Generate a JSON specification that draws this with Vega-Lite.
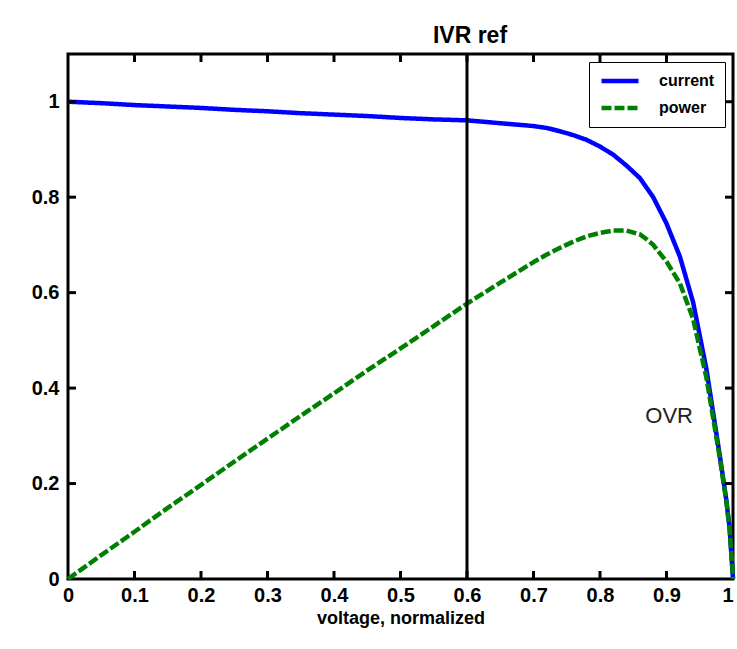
{
  "$schema": "https://vega.github.io/schema/vega-lite/v6.json",
  "width": 665,
  "height": 525,
  "autosize": {"type": "none"},
  "padding": {"left": 68, "top": 54, "right": 4, "bottom": 70},
  "background": "white",
  "config": {
    "view": {"stroke": "black", "strokeWidth": 3},
    "font": "Liberation Sans",
    "legend": {
      "orient": "top-right", "offset": 8,
      "strokeColor": "black", "fillColor": "white", "padding": 10,
      "symbolType": "stroke", "symbolSize": 1369, "symbolStrokeWidth": 4.5,
      "labelFont": "Liberation Sans", "labelFontWeight": "bold", "labelFontSize": 16, "labelColor": "black",
      "labelOffset": 18, "rowPadding": 9, "clipHeight": 18
    }
  },
  "datasets": {
    "curves": [
      {"v": 0, "value": 1.0, "series": "current"},
      {"v": 0.05, "value": 0.997, "series": "current"},
      {"v": 0.1, "value": 0.993, "series": "current"},
      {"v": 0.15, "value": 0.99, "series": "current"},
      {"v": 0.2, "value": 0.987, "series": "current"},
      {"v": 0.25, "value": 0.983, "series": "current"},
      {"v": 0.3, "value": 0.98, "series": "current"},
      {"v": 0.35, "value": 0.976, "series": "current"},
      {"v": 0.4, "value": 0.973, "series": "current"},
      {"v": 0.45, "value": 0.97, "series": "current"},
      {"v": 0.5, "value": 0.966, "series": "current"},
      {"v": 0.55, "value": 0.963, "series": "current"},
      {"v": 0.6, "value": 0.961, "series": "current"},
      {"v": 0.65, "value": 0.955, "series": "current"},
      {"v": 0.7, "value": 0.949, "series": "current"},
      {"v": 0.72, "value": 0.945, "series": "current"},
      {"v": 0.74, "value": 0.938, "series": "current"},
      {"v": 0.76, "value": 0.93, "series": "current"},
      {"v": 0.78, "value": 0.92, "series": "current"},
      {"v": 0.8, "value": 0.906, "series": "current"},
      {"v": 0.82, "value": 0.889, "series": "current"},
      {"v": 0.84, "value": 0.866, "series": "current"},
      {"v": 0.86, "value": 0.84, "series": "current"},
      {"v": 0.88, "value": 0.8, "series": "current"},
      {"v": 0.9, "value": 0.745, "series": "current"},
      {"v": 0.92, "value": 0.676, "series": "current"},
      {"v": 0.94, "value": 0.58, "series": "current"},
      {"v": 0.96, "value": 0.44, "series": "current"},
      {"v": 0.98, "value": 0.26, "series": "current"},
      {"v": 0.99, "value": 0.165, "series": "current"},
      {"v": 0.995, "value": 0.105, "series": "current"},
      {"v": 1.0, "value": 0.0, "series": "current"},
      {"v": 0, "value": 0, "series": "power"},
      {"v": 0.05, "value": 0.05, "series": "power"},
      {"v": 0.1, "value": 0.099, "series": "power"},
      {"v": 0.15, "value": 0.149, "series": "power"},
      {"v": 0.2, "value": 0.197, "series": "power"},
      {"v": 0.25, "value": 0.246, "series": "power"},
      {"v": 0.3, "value": 0.294, "series": "power"},
      {"v": 0.35, "value": 0.342, "series": "power"},
      {"v": 0.4, "value": 0.389, "series": "power"},
      {"v": 0.45, "value": 0.437, "series": "power"},
      {"v": 0.5, "value": 0.483, "series": "power"},
      {"v": 0.55, "value": 0.53, "series": "power"},
      {"v": 0.6, "value": 0.577, "series": "power"},
      {"v": 0.65, "value": 0.621, "series": "power"},
      {"v": 0.7, "value": 0.664, "series": "power"},
      {"v": 0.72, "value": 0.68, "series": "power"},
      {"v": 0.74, "value": 0.694, "series": "power"},
      {"v": 0.76, "value": 0.707, "series": "power"},
      {"v": 0.78, "value": 0.718, "series": "power"},
      {"v": 0.8, "value": 0.725, "series": "power"},
      {"v": 0.82, "value": 0.73, "series": "power"},
      {"v": 0.84, "value": 0.73, "series": "power"},
      {"v": 0.86, "value": 0.722, "series": "power"},
      {"v": 0.87, "value": 0.712, "series": "power"},
      {"v": 0.88, "value": 0.7, "series": "power"},
      {"v": 0.9, "value": 0.665, "series": "power"},
      {"v": 0.92, "value": 0.62, "series": "power"},
      {"v": 0.94, "value": 0.545, "series": "power"},
      {"v": 0.96, "value": 0.422, "series": "power"},
      {"v": 0.98, "value": 0.255, "series": "power"},
      {"v": 0.99, "value": 0.163, "series": "power"},
      {"v": 0.995, "value": 0.104, "series": "power"},
      {"v": 1.0, "value": 0, "series": "power"}
    ],
    "xticks": [{"t": 0.1}, {"t": 0.2}, {"t": 0.3}, {"t": 0.4}, {"t": 0.5}, {"t": 0.6}, {"t": 0.7}, {"t": 0.8}, {"t": 0.9}],
    "yticks": [{"t": 0.2}, {"t": 0.4}, {"t": 0.6}, {"t": 0.8}, {"t": 1.0}],
    "refline": [{"v": 0.6}],
    "ivr": [{"v": 0.6, "y": 1.1, "label": "IVR ref"}],
    "ovr": [{"v": 0.904, "y": 0.342, "label": "OVR"}]
  },
  "layer": [
    {
      "data": {"name": "curves"},
      "mark": {"type": "line", "strokeWidth": 4.5},
      "encoding": {
        "x": {"field": "v", "type": "quantitative",
              "scale": {"domain": [0, 1], "nice": false, "zero": false},
              "axis": {"orient": "bottom", "values": [0, 0.1, 0.2, 0.3, 0.4, 0.5, 0.6, 0.7, 0.8, 0.9, 1], "format": "~g",
                       "domain": false, "grid": false, "ticks": false,
                       "labelFont": "Liberation Sans", "labelFontWeight": "bold", "labelFontSize": 20, "labelColor": "black",
                       "labelPadding": 6, "labelFlush": false,
                       "labelAlign": {"condition": {"test": "datum.value == 1", "value": "right"}, "value": "center"},
                       "title": "voltage, normalized", "titleFont": "Liberation Sans", "titleFontWeight": "bold", "titleFontSize": 18, "titleColor": "black", "titlePadding": 4}},
        "y": {"field": "value", "type": "quantitative",
              "scale": {"domain": [0, 1.1], "nice": false, "zero": false},
              "axis": {"orient": "left", "values": [0, 0.2, 0.4, 0.6, 0.8, 1], "format": "~g",
                       "domain": false, "grid": false, "ticks": false,
                       "labelFont": "Liberation Sans", "labelFontWeight": "bold", "labelFontSize": 20, "labelColor": "black",
                       "labelPadding": 9, "labelFlush": false, "title": null}},
        "color": {"field": "series", "type": "nominal",
                  "scale": {"domain": ["current", "power"], "range": ["#0000ff", "#008000"]},
                  "legend": {"title": null}},
        "strokeDash": {"field": "series", "type": "nominal",
                       "scale": {"domain": ["current", "power"], "range": [[1, 0], [10, 3]]},
                       "legend": {"title": null}}
      }
    },
    {
      "data": {"name": "xticks"},
      "mark": {"type": "point", "shape": "M0,0L0,-2", "size": 64, "filled": false, "stroke": "black", "strokeWidth": 3, "opacity": 1},
      "encoding": {
        "x": {"field": "t", "type": "quantitative", "axis": null},
        "y": {"value": "height"}
      }
    },
    {
      "data": {"name": "xticks"},
      "mark": {"type": "point", "shape": "M0,0L0,2", "size": 64, "filled": false, "stroke": "black", "strokeWidth": 3, "opacity": 1},
      "encoding": {
        "x": {"field": "t", "type": "quantitative", "axis": null},
        "y": {"value": 0}
      }
    },
    {
      "data": {"name": "yticks"},
      "mark": {"type": "point", "shape": "M0,0L2,0", "size": 64, "filled": false, "stroke": "black", "strokeWidth": 3, "opacity": 1},
      "encoding": {
        "y": {"field": "t", "type": "quantitative", "axis": null},
        "x": {"value": 0}
      }
    },
    {
      "data": {"name": "yticks"},
      "mark": {"type": "point", "shape": "M0,0L-2,0", "size": 64, "filled": false, "stroke": "black", "strokeWidth": 3, "opacity": 1},
      "encoding": {
        "y": {"field": "t", "type": "quantitative", "axis": null},
        "x": {"value": "width"}
      }
    },
    {
      "data": {"name": "refline"},
      "mark": {"type": "rule", "color": "black", "strokeWidth": 3},
      "encoding": {
        "x": {"field": "v", "type": "quantitative", "axis": null}
      }
    },
    {
      "data": {"name": "ivr"},
      "mark": {"type": "text", "font": "Liberation Sans", "fontWeight": "bold", "fontSize": 23, "baseline": "bottom", "align": "center", "dy": -6, "dx": 3, "color": "black"},
      "encoding": {
        "x": {"field": "v", "type": "quantitative", "axis": null},
        "y": {"field": "y", "type": "quantitative", "axis": null},
        "text": {"field": "label"}
      }
    },
    {
      "data": {"name": "ovr"},
      "mark": {"type": "text", "font": "Liberation Sans", "fontSize": 22, "baseline": "middle", "align": "center", "color": "#222222"},
      "encoding": {
        "x": {"field": "v", "type": "quantitative", "axis": null},
        "y": {"field": "y", "type": "quantitative", "axis": null},
        "text": {"field": "label"}
      }
    }
  ],
  "resolve": {"axis": {"x": "independent", "y": "independent"}}
}
